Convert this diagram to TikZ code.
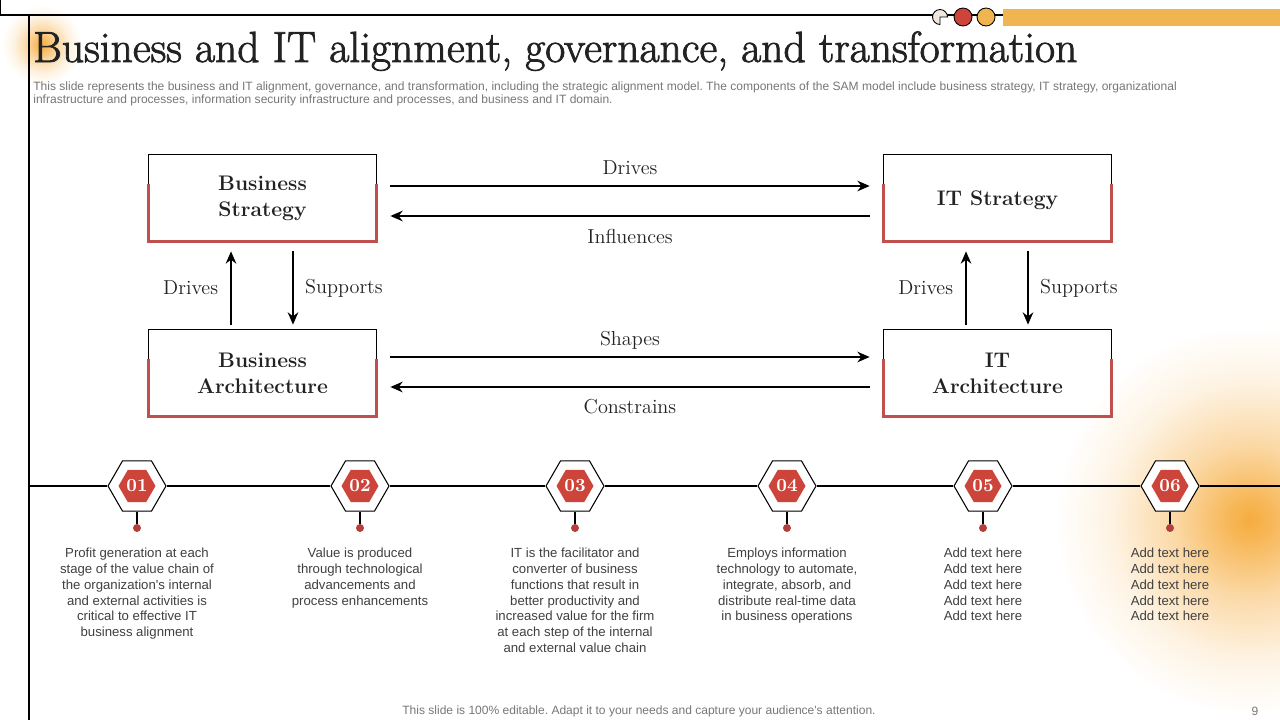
\documentclass[tikz,border=0pt]{standalone}
\usepackage{fontspec}
\newfontfamily\arialfont{Liberation Sans}
\usetikzlibrary{shapes.geometric,arrows.meta,positioning}
\definecolor{boxred}{RGB}{192,80,77}
\definecolor{hexred}{RGB}{204,68,58}
\definecolor{dotred}{RGB}{178,64,60}
\definecolor{barorange}{RGB}{240,180,80}
\definecolor{glow}{RGB}{246,172,62}
\definecolor{beige}{RGB}{240,232,222}
\definecolor{darktext}{RGB}{34,34,34}
\definecolor{greytext}{RGB}{118,118,118}
\definecolor{desctext}{RGB}{64,64,64}
\pgfdeclareradialshading{glowshade}{\pgfpoint{0bp}{0bp}}{color(0bp)=(glow); color(3bp)=(glow!85!white); color(10bp)=(glow!45!white); color(18bp)=(glow!14!white); color(25bp)=(white); color(50bp)=(white)}
\newcommand\heavytext[1]{\special{pdf:literal direct 2 Tr 0.45 w}#1\special{pdf:literal direct 0 Tr}}
\tikzset{
  bx/.style = {minimum width=4.54cm, minimum height=1.72cm, align=center, text=darktext, font=\fontsize{12}{14.7}\selectfont\bfseries, execute at begin node={\rule{0pt}{11.5pt}}},
  arrow/.style = {line width=1.1pt, -{Stealth[length=7pt, width=6pt]}},
  lbl/.style = {text=darktext, font=\fontsize{11.5}{13}\selectfont},
  hexo/.style = {regular polygon, regular polygon sides=6, draw=black, fill=white, line width=0.6pt, minimum size=1.16cm, inner sep=0pt},
  hexi/.style = {regular polygon, regular polygon sides=6, fill=hexred, minimum size=0.74cm, inner sep=0pt, text=white, font=\fontsize{10.5}{12}\selectfont\bfseries},
  dot/.style = {circle, fill=dotred, minimum size=0.16cm, inner sep=0pt},
  desc/.style = {align=center, inner sep=0pt, text=desctext, font=\arialfont\fontsize{7.5}{9.07}\selectfont}
}
\frenchspacing

\begin{document}
\begin{tikzpicture}[x=0.02cm, y=-0.02cm]
\useasboundingbox (0,0) rectangle (1280,720);
% glows
\shade[shading=glowshade] (1250,520) circle (195);
\shade[shading=glowshade] (42,45) circle (40);
% frame
\draw[line width=0.6pt] (0,0) -- (0,15) -- (1003,15);
\draw[line width=0.6pt] (29,15) -- (29,720);
\fill[barorange] (1003,9) rectangle (1280,26);
\draw[fill=beige, line width=0.5pt] (940,17) -- ++(90:7.5) arc (90:360:7.5) -- cycle;
\draw[fill=hexred, line width=0.5pt] (963,17) circle (9);
\draw[fill=barorange, line width=0.5pt] (986,17) circle (9);

\node[anchor=base west, inner sep=0pt, text=darktext, font=\fontsize{24.8}{28}\selectfont] (title) at (33,62) {\heavytext{Business and IT alignment, governance, and transformation}};
\node[anchor=north west, inner sep=0pt, align=left, text=greytext, font=\arialfont\fontsize{6.85}{7.9}\selectfont] (sub) at (33,81) {This slide represents the business and IT alignment, governance, and transformation, including the strategic alignment model. The components of the SAM model include business strategy, IT strategy, organizational\\infrastructure and processes, information security infrastructure and processes, and business and IT domain.};

% SAM boxes
\node[bx] (bs) at (262.5,198) {Business\\Strategy};
\node[bx] (its) at (997.5,198) {IT Strategy};
\node[bx] (ba) at (262.5,373) {Business\\Architecture};
\node[bx] (ita) at (997.5,373) {IT\\Architecture};
\foreach \n in {bs,its,ba,ita}{
  \draw[line width=0.6pt] ([yshift=-0.58cm]\n.north west) -- (\n.north west) -- (\n.north east) -- ([yshift=-0.58cm]\n.north east);
  \draw[boxred, line width=2pt] ([yshift=-0.58cm]\n.north west) -- (\n.south west) -- (\n.south east) -- ([yshift=-0.58cm]\n.north east);
}

\draw[arrow] ([shift={(0.28cm,0.24cm)}]bs.east) -- node[lbl, above=2.5pt] {Drives} ([shift={(-0.28cm,0.24cm)}]its.west);
\draw[arrow] ([shift={(-0.28cm,-0.36cm)}]its.west) -- node[lbl, below=3.5pt] {Influences} ([shift={(0.28cm,-0.36cm)}]bs.east);
\draw[arrow] ([shift={(0.28cm,0.32cm)}]ba.east) -- node[lbl, above=0.5pt] {Shapes} ([shift={(-0.28cm,0.32cm)}]ita.west);
\draw[arrow] ([shift={(-0.28cm,-0.28cm)}]ita.west) -- node[lbl, below=3pt] {Constrains} ([shift={(0.28cm,-0.28cm)}]ba.east);

\draw[arrow] ([shift={(-0.63cm,0.1cm)}]ba.north) -- node[lbl, left=3.5pt] {Drives} ([shift={(-0.63cm,-0.2cm)}]bs.south);
\draw[arrow] ([shift={(0.61cm,-0.2cm)}]bs.south) -- node[lbl, right=3pt] {Supports} ([shift={(0.61cm,0.1cm)}]ba.north);
\draw[arrow] ([shift={(-0.63cm,0.1cm)}]ita.north) -- node[lbl, left=3.5pt] {Drives} ([shift={(-0.63cm,-0.2cm)}]its.south);
\draw[arrow] ([shift={(0.61cm,-0.2cm)}]its.south) -- node[lbl, right=3pt] {Supports} ([shift={(0.61cm,0.1cm)}]ita.north);

% timeline
\coordinate (tl) at (30,486);
\coordinate (tr) at (1280,486);
\foreach \i/\x in {1/137,2/360,3/575,4/787,5/983,6/1170}{
  \node[hexo] (h\i) at (\x,486) {};
  \node[hexi] (n\i) at (h\i) {0\i};
  \node[dot, below=0.24cm of h\i] (d\i) {};
  \draw[line width=0.6pt] (h\i) -- (d\i);
}
\draw[line width=0.6pt] (tl) -- (h1) -- (h2) -- (h3) -- (h4) -- (h5) -- (h6) -- (tr);

\node[desc, below=0.3cm of d1] (t1) {Profit generation at each\\stage of the value chain of\\the organization's internal\\and external activities is\\critical to effective IT\\business alignment};
\node[desc, below=0.3cm of d2] (t2) {Value is produced\\through technological\\advancements and\\process enhancements};
\node[desc, below=0.3cm of d3] (t3) {IT is the facilitator and\\converter of business\\functions that result in\\better productivity and\\increased value for the firm\\at each step of the internal\\and external value chain};
\node[desc, below=0.3cm of d4] (t4) {Employs information\\technology to automate,\\integrate, absorb, and\\distribute real-time data\\in business operations};
\node[desc, below=0.3cm of d5] (t5) {Add text here\\Add text here\\Add text here\\Add text here\\Add text here};
\node[desc, below=0.3cm of d6] (t6) {Add text here\\Add text here\\Add text here\\Add text here\\Add text here};

\node[text=greytext, font=\arialfont\fontsize{6.85}{8}\selectfont] (foot) at (639,711) {This slide is 100\% editable. Adapt it to your needs and capture your audience's attention.};
\node[text=greytext, font=\arialfont\fontsize{6.85}{8}\selectfont] (page) at (1255,711) {9};
\end{tikzpicture}
\end{document}
